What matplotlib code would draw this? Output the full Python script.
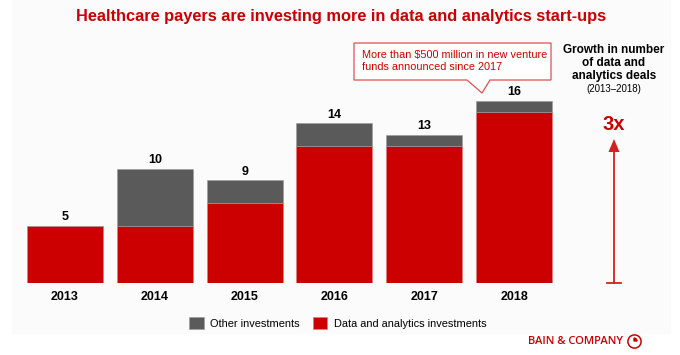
import matplotlib
matplotlib.use("Agg")
import matplotlib.pyplot as plt
from matplotlib.patches import Polygon, Rectangle, Wedge

plt.rcParams['font.family'] = ['Liberation Sans', 'DejaVu Sans']

###############################################################################
# Data

years = ['2013', '2014', '2015', '2016', '2017', '2018']
data_analytics = [5, 5, 7, 12, 12, 15]
other = [0, 5, 2, 2, 1, 1]
totals = [5, 10, 9, 14, 13, 16]

RED = '#cc0000'
GRAY = '#5a5a5a'

W, H = 680, 355


def fx(px):
    return px / W


def fy(py):
    # py measured from top of image
    return 1 - py / H


###############################################################################
# Figure

fig = plt.figure(figsize=(6.8, 3.55), dpi=100)
fig.patches.append(Rectangle((fx(12), fy(333)), fx(658), 333 / H,
                             transform=fig.transFigure, color='#fbfbfb', zorder=-10))

ax = fig.add_axes([fx(20), fy(283), fx(540), (283 - 60) / H])
ax.set_facecolor('none')
x = range(len(years))
ax.bar(x, data_analytics, width=0.846, color=RED, edgecolor='#e27a7a', linewidth=0.4,
       label='Data and analytics investments')
ax.bar(x, other, width=0.846, bottom=data_analytics, color=GRAY, edgecolor='#9a9a9a',
       linewidth=0.4, label='Other investments')
for i, t in enumerate(totals):
    ax.text(i, t + 0.25, str(t), ha='center', va='bottom', fontsize=9, fontweight='bold')
ax.set_xlim(-0.501, 5.512)
ax.set_ylim(0, 19.56)
ax.set_xticks(list(x))
ax.set_xticklabels(years, fontsize=9, fontweight='bold')
ax.tick_params(axis='x', length=0, pad=6)
ax.set_yticks([])
for s in ax.spines.values():
    s.set_visible(False)

# title
fig.text(fx(341), fy(16), 'Healthcare payers are investing more in data and analytics start-ups',
         ha='center', va='center', color=RED, fontsize=11.8, fontweight='bold')

# callout box
pts = [(354, 43), (551, 43), (551, 80), (490, 80), (482, 93), (467, 80), (354, 80)]
fig.patches.append(Polygon([(fx(a), fy(b)) for a, b in pts], closed=True,
                           transform=fig.transFigure, facecolor='white',
                           edgecolor='#e05050', linewidth=0.9, zorder=3))
fig.text(fx(362), fy(61), 'More than $500 million in new venture\nfunds announced since 2017',
         ha='left', va='center', color=RED, fontsize=7.8, linespacing=1.3, zorder=4)

# right side note
fig.text(fx(614), fy(63), 'Growth in number\nof data and\nanalytics deals',
         ha='center', va='center', fontsize=8.5, fontweight='bold', linespacing=1.15)
fig.text(fx(614), fy(89), '(2013\u20132018)', ha='center', va='center', fontsize=7)

# growth arrow
fig.text(fx(614), fy(124), '3x', ha='center', va='center', color=RED,
         fontsize=14.5, fontweight='bold')
fig.add_artist(plt.Line2D([fx(614), fx(614)], [fy(283), fy(150)],
                          transform=fig.transFigure, color='#d42020', lw=1.3))
fig.add_artist(Polygon([(fx(608.5), fy(152)), (fx(619.5), fy(152)), (fx(614), fy(139))],
                       closed=True, transform=fig.transFigure, color='#d42020', lw=0))
fig.add_artist(plt.Line2D([fx(607), fx(621)], [fy(283), fy(283)],
                          transform=fig.transFigure, color='#d42020', lw=1.3))

# legend
h, l = ax.get_legend_handles_labels()
fig.legend(h[::-1], l[::-1], loc='center', bbox_to_anchor=(fx(338), fy(323)), ncol=2,
           frameon=False, fontsize=7.9, handlelength=1.3, handleheight=1.3,
           handletextpad=0.6, columnspacing=1.2)

# logo
fig.text(fx(623), fy(341), 'BAIN & COMPANY', ha='right', va='center', color=RED,
         fontsize=8.0, fontweight='semibold', family=['Open Sans', 'DejaVu Sans'])
fig.add_artist(plt.Line2D([fx(634)], [fy(341)], marker='o', markersize=9.5,
                          markerfacecolor='none', markeredgecolor=RED, mew=1.1,
                          transform=fig.transFigure))
ax_logo = fig.add_axes([fx(629), fy(346), fx(10), 10 / H])
ax_logo.set_xlim(-1, 1)
ax_logo.set_ylim(-1, 1)
ax_logo.add_patch(Wedge((0, 0), 0.6, 0, 90, color=RED))
ax_logo.axis('off')

fig.savefig('out.png', dpi=100)
